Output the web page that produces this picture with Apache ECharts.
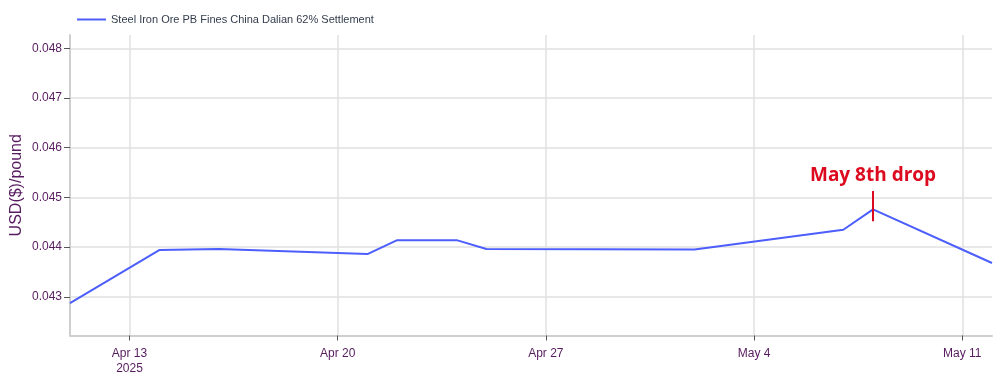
<!DOCTYPE html>
<html>
<head>
<meta charset="utf-8">
<script src="https://cdn.jsdelivr.net/npm/echarts@6/dist/echarts.min.js"></script>
<style>html,body{margin:0;padding:0;background:#fff;}#c{width:1000px;height:387px;}</style>
</head>
<body>
<div id="c"></div>
<script>
const seriesName = 'Steel Iron Ore PB Fines China Dalian 62% Settlement';
const dates = ['2025-04-11','2025-04-14','2025-04-16','2025-04-21','2025-04-22','2025-04-24','2025-04-25','2025-05-02','2025-05-07','2025-05-08','2025-05-12'];
const values = [0.04287,0.04394,0.04396,0.04386,0.04414,0.04414,0.04396,0.04395,0.04435,0.04476,0.04368];
const xTickDates = ['2025-04-13','2025-04-20','2025-04-27','2025-05-04','2025-05-11'];
const yTicks = [0.043,0.044,0.045,0.046,0.047,0.048];
const yRange = [0.04222,0.04827];
const annotationDate = '2025-05-08';
const annotationRange = [0.04452,0.04513];
const annotationText = 'May 8th drop';

const toTs = s => { const p = s.split('-').map(Number); return Date.UTC(p[0], p[1]-1, p[2]); };
const monthNames = ['Jan','Feb','Mar','Apr','May','Jun','Jul','Aug','Sep','Oct','Nov','Dec'];
const xTickTs = xTickDates.map(toTs);
const labelColor = '#561a5e';

const chart = echarts.init(document.getElementById('c'), null, {renderer:'canvas'});
chart.setOption({
  backgroundColor:'#fff',
  animation:false,
  textStyle:{fontFamily:'Liberation Sans, Arial, sans-serif'},
  legend:{
    left:77, top:14, padding:0,
    itemWidth:29, itemHeight:14, itemGap:10,
    textStyle:{fontSize:11, color:'#333d4d', fontFamily:'Liberation Sans, Arial, sans-serif'},
    data:[{name:seriesName, icon:'path://M0,0 L29,0 L29,2 L0,2 Z'}]
  },
  grid:{left:70, right:8, top:35, bottom:51.5, containLabel:false, outerBoundsMode:'none'},
  xAxis:{
    type:'value',
    min:toTs(dates[0]), max:toTs(dates[dates.length-1]),
    axisLine:{show:true, lineStyle:{color:'#cfcfcf', width:2}},
    axisTick:{show:true, customValues:xTickTs, length:5, lineStyle:{color:'#555', width:1}},
    axisLabel:{
      customValues:xTickTs, margin:11, fontSize:12, color:labelColor, lineHeight:15,
      formatter:function(v){
        const d = new Date(v);
        const s = monthNames[d.getUTCMonth()] + ' ' + d.getUTCDate();
        return v === xTickTs[0] ? s + '\n' + d.getUTCFullYear() : s;
      }
    },
    splitLine:{show:true, lineStyle:{color:'#e0e0e0', width:1.5}}
  },
  yAxis:{
    type:'value',
    min:yRange[0], max:yRange[1],
    name:'USD($)/pound', nameLocation:'middle', nameGap:45, nameMoveOverlap:false,
    nameTextStyle:{fontSize:16, color:labelColor},
    axisLine:{show:true, lineStyle:{color:'#cfcfcf', width:2}},
    axisTick:{show:true, customValues:yTicks, length:6, lineStyle:{color:'#555', width:1}},
    axisLabel:{customValues:yTicks, margin:8, fontSize:12, color:labelColor,
      formatter:function(v){return v.toFixed(3);}},
    splitLine:{show:true, lineStyle:{color:'#e0e0e0', width:1.5}}
  },
  series:[{
    name:seriesName,
    type:'line',
    symbol:'none',
    data:dates.map((d,i)=>[toTs(d), values[i]]),
    lineStyle:{color:'#4c5efc', width:2},
    itemStyle:{color:'#4c5efc'},
    markLine:{
      silent:true, symbol:'none', animation:false,
      lineStyle:{color:'#dc0a1e', width:2, type:'solid'},
      label:{show:true, position:'end', distance:6, formatter:annotationText,
        fontSize:19, fontWeight:'bold', color:'#dc0a1e', fontFamily:'Open Sans, Noto Sans, sans-serif'},
      data:[[{coord:[toTs(annotationDate), annotationRange[0]]},{coord:[toTs(annotationDate), annotationRange[1]]}]]
    }
  }]
});
</script>
</body>
</html>
